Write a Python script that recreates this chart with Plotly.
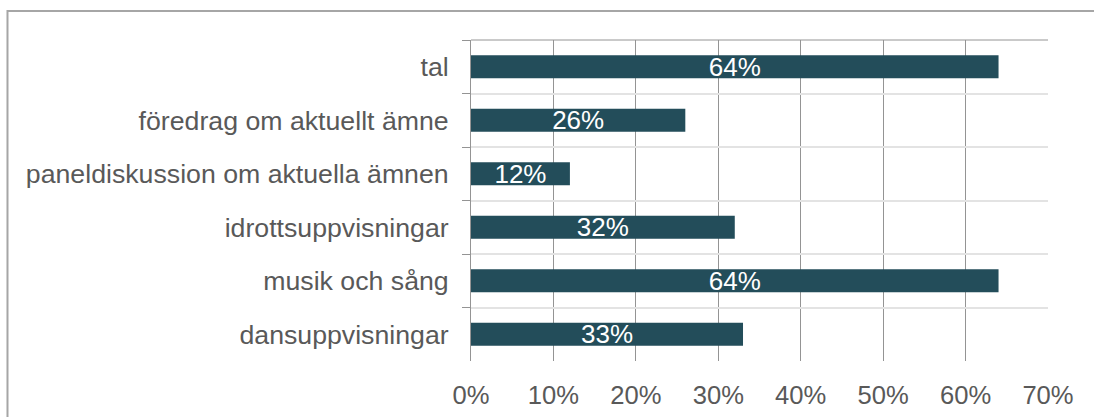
import plotly.graph_objects as go

# kategorier, uppifrån och ned
kategorier = ['tal', 'föredrag om aktuellt ämne', 'paneldiskussion om aktuella ämnen',
              'idrottsuppvisningar', 'musik och sång', 'dansuppvisningar']
andel = [0.64, 0.26, 0.12, 0.32, 0.64, 0.33]
etiketter = ['64%', '26%', '12%', '32%', '64%', '33%']

TEXTFARG = '#595959'
STAPELFARG = '#234D5A'
FONT = 'Liberation Sans, Arial, sans-serif'

fig = go.Figure()

fig.add_trace(go.Bar(
    x=andel,
    y=kategorier,
    orientation='h',
    width=0.43,
    marker=dict(color=STAPELFARG, line=dict(width=0)),
    text=etiketter,
    textposition='inside',
    insidetextanchor='middle',
    constraintext='none',
    textfont=dict(color='white', size=26, family=FONT),
    hoverinfo='skip',
))

fig.update_layout(
    width=1094,
    height=417,
    margin=dict(l=471, r=46, t=40, b=56),
    paper_bgcolor='white',
    plot_bgcolor='white',
    showlegend=False,
    font=dict(family=FONT, size=26, color=TEXTFARG),
)

fig.update_xaxes(
    range=[0, 0.7],
    dtick=0.1,
    tickformat='.0%',
    showgrid=True,
    gridcolor='#949494',
    gridwidth=1,
    zeroline=False,
    showline=False,
    ticks='',
    ticklabelstandoff=16,
    automargin=False,
    tickfont=dict(size=25.6, color=TEXTFARG),
)

fig.update_yaxes(
    autorange='reversed',
    tickson='boundaries',
    showgrid=True,
    gridcolor='#e3e3e3',
    gridwidth=2,
    showline=True,
    linecolor='#949494',
    linewidth=1,
    ticks='outside',
    ticklen=8,
    tickcolor='#949494',
    ticklabelstandoff=16,
    automargin=False,
    tickfont=dict(size=26.7, color=TEXTFARG),
)

# mörkare linje överst i diagramytan
fig.add_shape(type='line', xref='paper', yref='paper', x0=0, x1=1, y0=1, y1=1,
              line=dict(color='#949494', width=1))

# ram runt hela diagrammet
fig.add_shape(type='rect', xref='paper', yref='paper',
              x0=-0.8033, x1=1.3, y0=-0.3, y1=1.0903,
              line=dict(color='#a6a6a6', width=2), layer='below')

# ta bort sidans standardmarginal så att figuren börjar i hörnet
fig.write_html('out.html',
               config={'displayModeBar': False},
               post_script="document.body.style.margin='0';"
                           "document.body.style.overflow='hidden';")
